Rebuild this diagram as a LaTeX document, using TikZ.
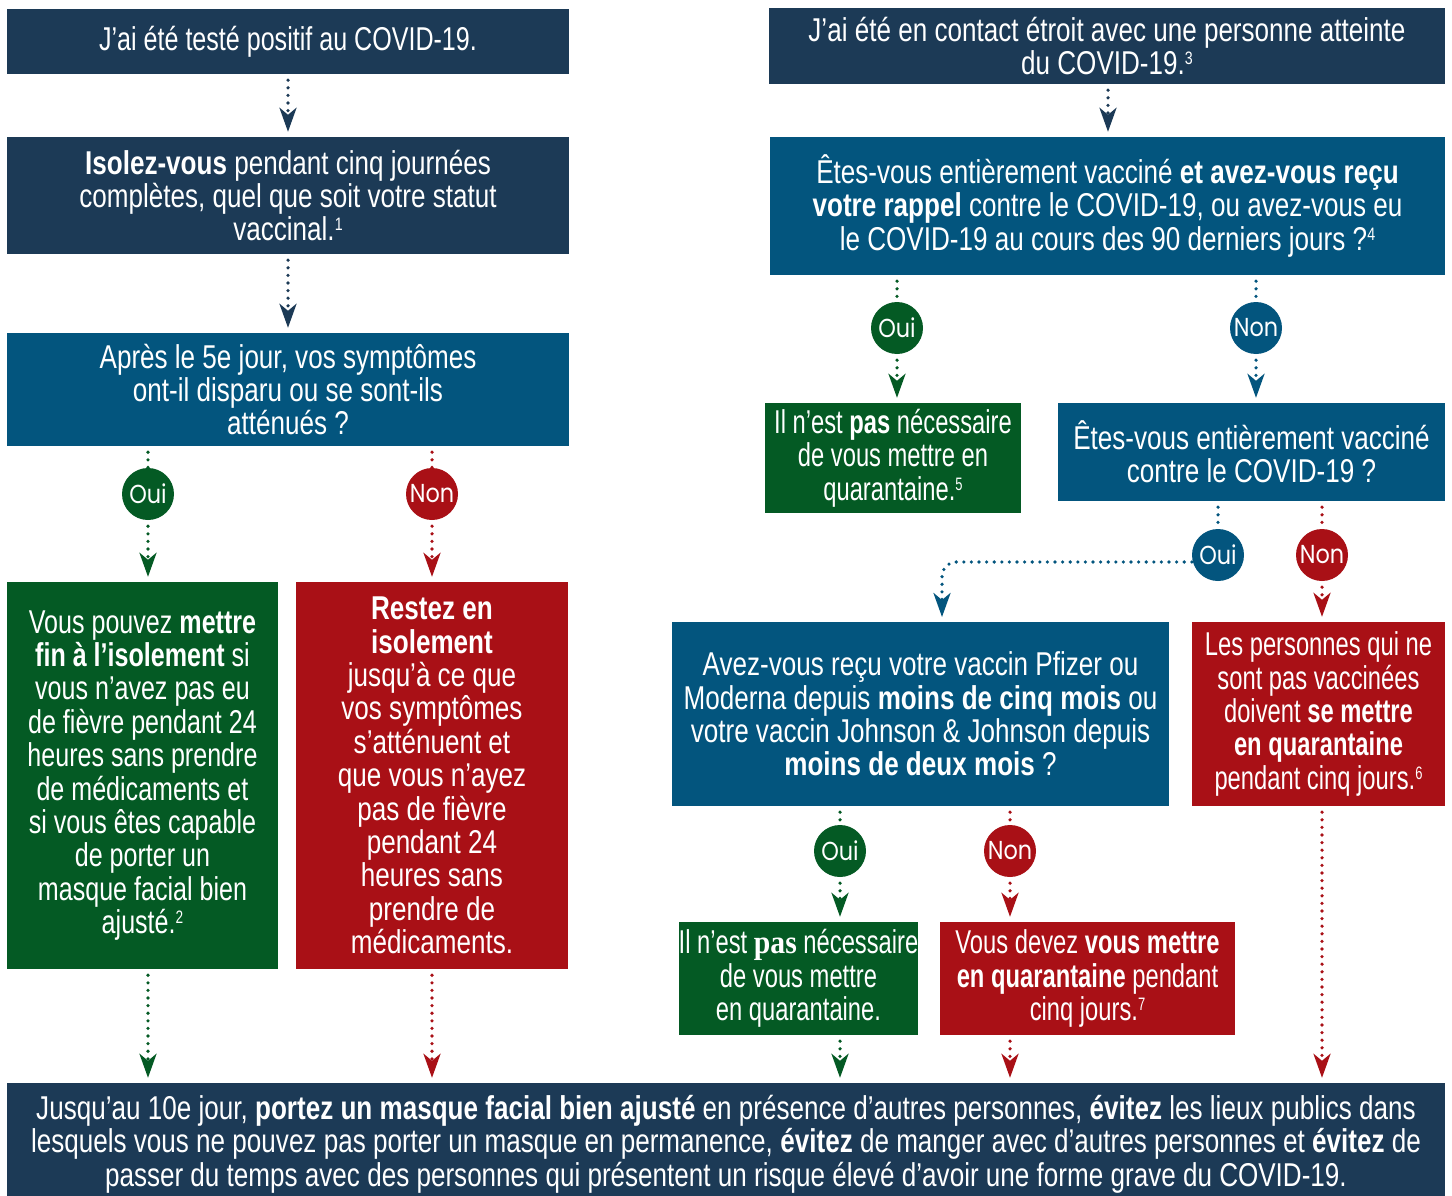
\documentclass[tikz,border=0pt]{standalone}
\usepackage{fontspec}
\setmainfont{Liberation Sans}[FakeStretch=0.79]
\newfontfamily\narrowsans{Liberation Sans}[FakeStretch=0.72]
\newfontfamily\midsans{Liberation Sans}[FakeStretch=0.76]
\newfontfamily\circfont{Poppins}[FakeStretch=0.86]
\newfontfamily\serifpas{Liberation Serif}[FakeStretch=0.9]
\usetikzlibrary{arrows.meta}
\definecolor{cnavy}{HTML}{1C3A56}
\definecolor{cblue}{HTML}{03557E}
\definecolor{cgreen}{HTML}{045A24}
\definecolor{cred}{HTML}{A91016}
\newcommand{\fnote}[1]{\smash{\raisebox{10pt}{\fontsize{18}{18}\selectfont #1}}}
\begin{document}
\begin{tikzpicture}[x=1pt,y=-1pt,
 box/.style={rectangle, inner sep=0pt, align=center, text=white, font=\fontsize{33}{33.4}\selectfont},
 narrow/.style={font=\narrowsans\fontsize{33}{33.4}\selectfont},
 mid/.style={font=\midsans\fontsize{33}{33.4}\selectfont},
 bnavy/.style={box, fill=cnavy},
 bblue/.style={box, fill=cblue},
 bgreen/.style={box, fill=cgreen},
 bred/.style={box, fill=cred},
 circ/.style={circle, minimum size=52pt, inner sep=0pt, text=white, font=\circfont\fontsize{26}{26}\selectfont},
 conn/.style={line width=3.6pt, line cap=round, dash pattern=on 0pt off 7.6pt, shorten <=6pt},
 arr/.style={conn, -{Stealth[length=24pt,width=17pt,inset=7pt]}, shorten >=5pt},
]
\useasboundingbox[fill=white] (0,0) rectangle (1452,1196);

% left column
\node[bnavy, mid, minimum width=562pt, minimum height=65pt] (A) at (288,41.5) {J’ai été testé positif au COVID-19.};
\node[bnavy, minimum width=562pt, minimum height=117pt] (B) at (288,195.5) {\textbf{Isolez-vous} pendant cinq journées\\complètes, quel que soit votre statut\\vaccinal.\fnote{1}};
\node[bblue, minimum width=562pt, minimum height=113pt] (C) at (288,389.5) {Après le 5e jour, vos symptômes\\ont-il disparu ou se sont-ils\\atténués ?};
\node[circ, fill=cgreen] (c1) at (148,494) {Oui};
\node[circ, fill=cred] (c2) at (432,494) {Non};
\node[bgreen, mid, minimum width=271pt, minimum height=387pt] (D) at (142.5,775.5) {Vous pouvez \textbf{mettre}\\\textbf{fin à l’isolement} si\\vous n’avez pas eu\\de fièvre pendant 24\\heures sans prendre\\de médicaments et\\si vous êtes capable\\de porter un\\masque facial bien\\ajusté.\fnote{2}};
\node[bred, minimum width=272pt, minimum height=387pt] (E) at (432,775.5) {\textbf{Restez en}\\\textbf{isolement}\\jusqu’à ce que\\vos symptômes\\s’atténuent et\\que vous n’ayez\\pas de fièvre\\pendant 24\\heures sans\\prendre de\\médicaments.};

% right column
\node[bnavy, minimum width=676pt, minimum height=76pt] (F) at (1107,46) {J’ai été en contact étroit avec une personne atteinte\\du COVID-19.\fnote{3}};
\node[bblue, minimum width=675pt, minimum height=138pt] (G) at (1107.5,206) {Êtes-vous entièrement vacciné \textbf{et avez-vous reçu}\\\textbf{votre rappel} contre le COVID-19, ou avez-vous eu\\le COVID-19 au cours des 90 derniers jours ?\fnote{4}};
\node[circ, fill=cgreen] (c3) at (897,328) {Oui};
\node[circ, fill=cblue] (c4) at (1256,328) {Non};
\node[bgreen, narrow, minimum width=256pt, minimum height=110pt] (H) at (893,458) {Il n’est \textbf{pas} nécessaire\\de vous mettre en\\quarantaine.\fnote{5}};
\node[bblue, minimum width=387pt, minimum height=98pt] (I) at (1251.5,452) {Êtes-vous entièrement vacciné\\contre le COVID-19 ?};
\node[circ, fill=cblue] (c5) at (1218,555) {Oui};
\node[circ, fill=cred] (c6) at (1322,555) {Non};
\node[bblue, minimum width=497pt, minimum height=184pt] (J) at (920.5,714) {Avez-vous reçu votre vaccin Pfizer ou\\Moderna depuis \textbf{moins de cinq mois} ou\\votre vaccin Johnson \& Johnson depuis\\\textbf{moins de deux mois} ?};
\node[bred, narrow, minimum width=253pt, minimum height=184pt] (K) at (1318.5,714) {Les personnes qui ne\\sont pas vaccinées\\doivent \textbf{se mettre}\\\textbf{en quarantaine}\\pendant cinq jours.\fnote{6}};
\node[circ, fill=cgreen] (c7) at (840,851) {Oui};
\node[circ, fill=cred] (c8) at (1010,851) {Non};
\node[bgreen, narrow, minimum width=239pt, minimum height=113pt] (L) at (798.5,978.5) {Il n’est {\serifpas\bfseries pas} nécessaire\\de vous mettre\\en quarantaine.};
\node[bred, narrow, minimum width=295pt, minimum height=113pt] (M) at (1087.5,978.5) {Vous devez \textbf{vous mettre}\\\textbf{en quarantaine} pendant\\cinq jours.\fnote{7}};

% bottom
\node[bnavy, minimum width=1438pt, minimum height=122pt] (N) at (726,1144) {Jusqu’au 10e jour, \textbf{portez un masque facial bien ajusté} en présence d’autres personnes, \textbf{évitez} les lieux publics dans\\lesquels vous ne pouvez pas porter un masque en permanence, \textbf{évitez} de manger avec d’autres personnes et \textbf{évitez} de\\passer du temps avec des personnes qui présentent un risque élevé d’avoir une forme grave du COVID-19.};

\coordinate (jin) at (942,622);

% connectors
\draw[arr, cnavy] (A) -- (B);
\draw[arr, cnavy] (B) -- (C);
\draw[conn, cgreen] (C.south -| c1.north) -- (c1.north);
\draw[conn, cred] (C.south -| c2.north) -- (c2.north);
\draw[arr, cgreen] (c1.south) -- (c1.south |- D.north);
\draw[arr, cred] (c2.south) -- (c2.south |- E.north);
\draw[arr, cgreen] (D.south -| c1.south) -- (c1.south |- N.north);
\draw[arr, cred] (E.south -| c2.south) -- (c2.south |- N.north);

\draw[arr, cnavy] (F.south -| 1108,0) -- (G.north -| 1108,0);
\draw[conn, cgreen] (G.south -| c3.north) -- (c3.north);
\draw[conn, cblue] (G.south -| c4.north) -- (c4.north);
\draw[arr, cgreen] (c3.south) -- (c3.south |- H.north);
\draw[arr, cblue] (c4.south) -- (c4.south |- I.north);
\draw[conn, cblue] (I.south -| c5.north) -- (c5.north);
\draw[conn, cred] (I.south -| c6.north) -- (c6.north);
\draw[arr, cblue, rounded corners=14pt, shorten <=0pt] ([yshift=-7pt]c5.west) -| (jin);
\draw[arr, cred] (c6.south) -- (c6.south |- K.north);
\draw[conn, cgreen] (J.south -| c7.north) -- (c7.north);
\draw[conn, cred] (J.south -| c8.north) -- (c8.north);
\draw[arr, cgreen] (c7.south) -- (c7.south |- L.north);
\draw[arr, cred] (c8.south) -- (c8.south |- M.north);
\draw[arr, cgreen] (L.south -| c7.south) -- (c7.south |- N.north);
\draw[arr, cred] (M.south -| c8.south) -- (c8.south |- N.north);
\draw[arr, cred] (K.south -| c6.south) -- (c6.south |- N.north);
\end{tikzpicture}
\end{document}
